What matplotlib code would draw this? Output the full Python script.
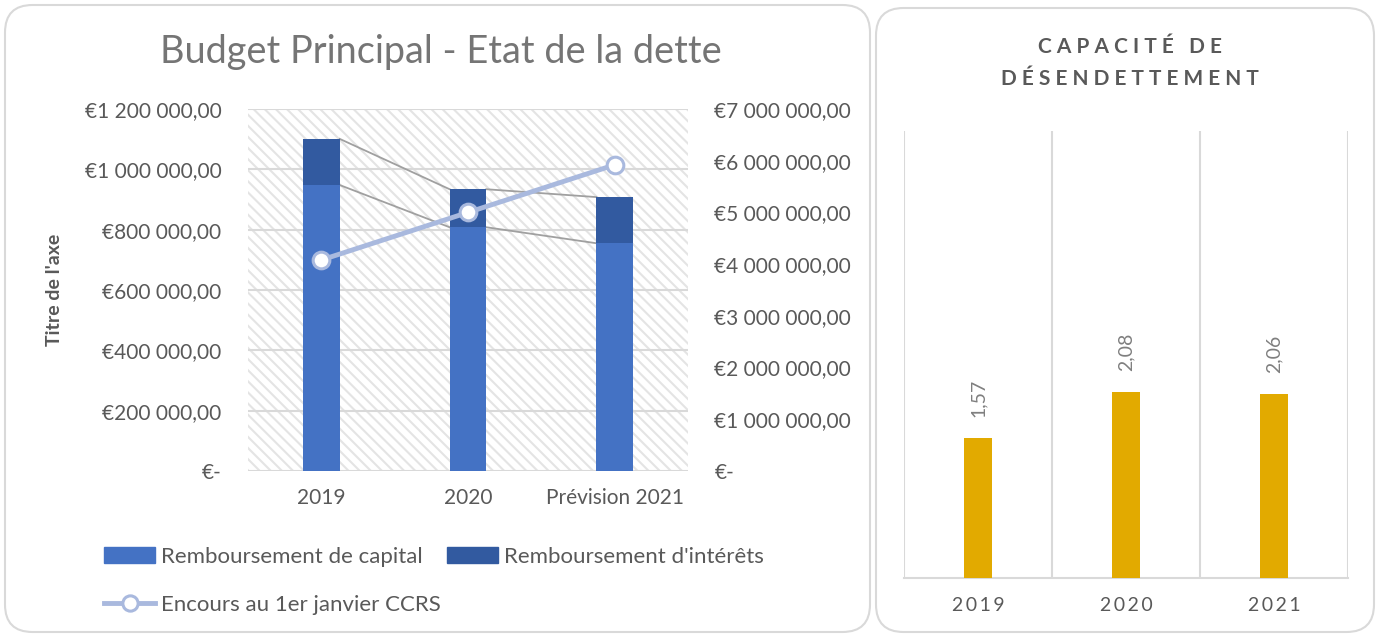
import matplotlib
matplotlib.use("Agg")
import matplotlib.pyplot as plt
from matplotlib.patches import FancyBboxPatch, Rectangle, Patch
from matplotlib.lines import Line2D
from matplotlib.ticker import FuncFormatter

plt.rcParams['font.family'] = ['Lato', 'DejaVu Sans']
plt.rcParams['hatch.linewidth'] = 1.5

# données
annees = ["2019", "2020", "Prévision 2021"]
capital = [948000, 808000, 755000]
interets = [153000, 126000, 153000]
encours = [4080000, 5000000, 5920000]

annees_cap = ["2019", "2020", "2021"]
capacite = [1.57, 2.08, 2.06]

W, H = 1377, 635
fig = plt.figure(figsize=(W / 100, H / 100), dpi=100)
txt = '#595959'

# cadres arrondis
for (x0, y0, x1, y1) in [(5, 5, 870, 632), (876, 8, 1374, 632)]:
    fig.patches.append(FancyBboxPatch((x0 / W, 1 - y1 / H), (x1 - x0) / W, (y1 - y0) / H,
                                      boxstyle="round,pad=0,rounding_size=0.02",
                                      mutation_aspect=W / H, transform=fig.transFigure,
                                      facecolor='white', edgecolor='#d9d9d9', lw=1.5, zorder=-5))


def ax_rect(x0, y0, x1, y1):
    return [x0 / W, 1 - y1 / H, (x1 - x0) / W, (y1 - y0) / H]


def euro(v, pos=None):
    if v == 0:
        return "€-"
    return "€" + f"{int(round(v)):,}".replace(",", " ") + ",00"


# ---- graphique de gauche
ax = fig.add_axes(ax_rect(248, 109, 688, 471))
x = list(range(len(annees)))
bw = 0.25
ax.add_patch(Rectangle((0, 0), 1, 1, transform=ax.transAxes, facecolor='white',
                       edgecolor='#e4e4e4', hatch='\\\\\\', lw=0, zorder=0))
ax.bar(x, capital, bw, color='#4472c4', zorder=3)
tot = [c + i for c, i in zip(capital, interets)]
ax.bar(x, interets, bw, bottom=capital, color='#325aa0', zorder=3)
# lignes de séries
for k in range(len(x) - 1):
    for serie in (capital, tot):
        ax.plot([x[k] + bw / 2, x[k + 1] - bw / 2], [serie[k], serie[k + 1]],
                color='#a0a0a0', lw=1.3, zorder=2)
ax.set_xlim(-0.5, 2.5)
ax.set_ylim(0, 1200000)
ax.set_yticks(range(0, 1200001, 200000))
ax.yaxis.set_major_formatter(FuncFormatter(euro))
ax.grid(axis='y', color='#d9d9d9', lw=1.5)
ax.set_axisbelow(True)
ax.set_xticks(x)
ax.set_xticklabels(annees)
ax.tick_params(length=0, labelsize=15, labelcolor=txt)
ax.tick_params(axis='y', pad=19)
ax.tick_params(axis='x', pad=12)
for s in ax.spines.values():
    s.set_visible(False)
ax.set_ylabel("Titre de l'axe", fontsize=14, fontweight='bold', color=txt, labelpad=16)

ax2 = ax.twinx()
ax2.plot(x, encours, color='#a9b9de', lw=3.5, marker='o', markersize=12,
         markerfacecolor='white', markeredgecolor='#a9b9de', markeredgewidth=2.2, zorder=5)
ax2.set_ylim(0, 7000000)
ax2.set_yticks(range(0, 7000001, 1000000))
ax2.yaxis.set_major_formatter(FuncFormatter(euro))
ax2.tick_params(length=0, labelsize=15, labelcolor=txt, pad=19)
for s in ax2.spines.values():
    s.set_visible(False)

fig.text(441 / W, 1 - 52 / H, "Budget Principal - Etat de la dette", ha='center', va='center',
         fontsize=27.3, color='#757575')

handles = [Patch(color='#4472c4', label="Remboursement de capital"),
           Line2D([], [], color='#a9b9de', lw=3.5, marker='o', markersize=11,
                  markerfacecolor='white', markeredgewidth=2.2, label="Encours au 1er janvier CCRS"),
           Patch(color='#325aa0', label="Remboursement d'intérêts")]
leg = fig.legend(handles=handles, ncol=2, loc='upper left', bbox_to_anchor=(84 / W, 1 - 527 / H),
                 frameon=False, fontsize=16, handlelength=2.3, handleheight=0.7,
                 handletextpad=0.25, columnspacing=0.3, labelspacing=1.25)
for t in leg.get_texts():
    t.set_color(txt)

# ---- graphique de droite
ax3 = fig.add_axes(ax_rect(904, 131, 1348, 578))
xc = list(range(len(annees_cap)))
ax3.bar(xc, capacite, 0.19, color='#e2aa00', zorder=3)
for xi, v in zip(xc, capacite):
    ax3.annotate(f"{v:.2f}".replace(".", ","), (xi, v), xytext=(0, 15), textcoords='offset points',
                 rotation=90, ha='center', va='bottom', fontsize=14, color='#7f7f7f')
ax3.set_xlim(-0.5, 2.5)
ax3.set_ylim(0, 5)
for b in [-0.5, 0.5, 1.5, 2.5]:
    ax3.axvline(b, color='#d9d9d9', lw=1.5, zorder=1)
ax3.set_yticks([])
ax3.set_xticks(xc)
ax3.set_xticklabels(["\u2009".join(a) for a in annees_cap])
ax3.tick_params(length=0, labelsize=14, labelcolor=txt, pad=14)
for n, s in ax3.spines.items():
    s.set_visible(n == 'bottom')
ax3.spines['bottom'].set_color('#d9d9d9')
ax3.spines['bottom'].set_linewidth(1.5)

fig.text(1130 / W, 1 - 63 / H, "C A P A C I T É   D E\nD É S E N D E T T E M E N T",
         ha='center', va='center', fontsize=15, fontweight='bold', color=txt, linespacing=1.7)

fig.savefig("out.png", dpi=100)
